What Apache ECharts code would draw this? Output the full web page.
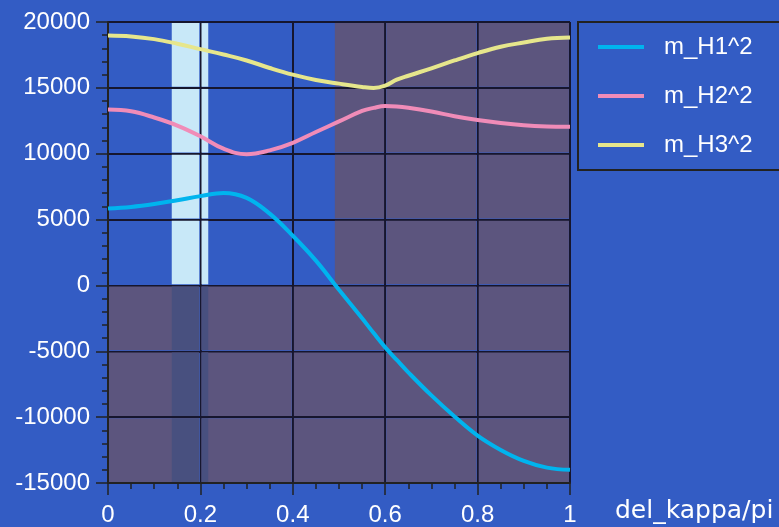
<!DOCTYPE html>
<html>
<head>
<meta charset="utf-8">
<script src="https://cdn.jsdelivr.net/npm/echarts@6/dist/echarts.min.js"></script>
<style>
html,body{margin:0;padding:0;background:#335cc4;}
#c{width:779px;height:527px;}
</style>
</head>
<body>
<div id="c"></div>
<script>
var xs = [0,0.05,0.1,0.15,0.2,0.25,0.3,0.35,0.4,0.45,0.5,0.55,0.575,0.6,0.625,0.65,0.7,0.75,0.8,0.85,0.9,0.95,1];
var h1 = [5840,5960,6180,6470,6780,7020,6650,5450,3770,1880,-330,-2500,-3620,-4700,-5660,-6600,-8350,-9950,-11400,-12490,-13320,-13830,-14000];
var h2 = [13350,13220,12750,12140,11330,10380,9960,10250,10830,11650,12450,13250,13480,13620,13590,13490,13200,12850,12560,12330,12160,12070,12040];
var h3 = [18970,18900,18700,18350,17940,17530,17080,16510,16000,15600,15320,15070,14990,15170,15620,15920,16480,17080,17640,18120,18440,18720,18820];
var seriesNames = ['m_H1^2','m_H2^2','m_H3^2'];
var xName = 'del_kappa/pi';
var xTicks = [0,0.2,0.4,0.6,0.8,1];
var yTicks = [-15000,-10000,-5000,0,5000,10000,15000,20000];
// shaded regions [x0, x1, y0, y1]
var negRegion = [0, 1, -15000, 0];
var rightRegion = [0.491, 1, 0, 20000];
var bandLight = [0.138, 0.217, 0, 20000];
var bandLow = [0.138, 0.217, -15000, 0];

var xMin = xTicks[0], xMax = xTicks[xTicks.length-1];
var yMin = yTicks[0], yMax = yTicks[yTicks.length-1];
// half-gap left open along grid lines so they stay visible (about 1.1px)
var gapX = 1.1 * (xMax - xMin) / 462;
var gapY = 1.1 * (yMax - yMin) / 463;

function pts(ys){ return xs.map(function(x,i){ return [x, ys[i]]; }); }
function cuts(a, b, ticks){
  var c = [a];
  ticks.forEach(function(t){ if (t > a && t < b) c.push(t); });
  c.push(b);
  return c;
}
function isTick(v, ticks){ return ticks.some(function(t){ return Math.abs(t - v) < 1e-9; }); }
function cells(r, color){
  var cx = cuts(r[0], r[1], xTicks), cy = cuts(r[2], r[3], yTicks), out = [];
  for (var i = 0; i < cx.length - 1; i++) {
    for (var j = 0; j < cy.length - 1; j++) {
      var xa = cx[i] + (isTick(cx[i], xTicks) ? gapX : 0);
      var xb = cx[i+1] - (isTick(cx[i+1], xTicks) ? gapX : 0);
      var ya = cy[j] + (isTick(cy[j], yTicks) ? gapY : 0);
      var yb = cy[j+1] - (isTick(cy[j+1], yTicks) ? gapY : 0);
      out.push([{xAxis:xa, yAxis:ya, itemStyle:{color:color, opacity:1, borderWidth:0}}, {xAxis:xb, yAxis:yb}]);
    }
  }
  return out;
}
var shadeCells = cells(negRegion,'#5c557e')
  .concat(cells(rightRegion,'#5c557e'))
  .concat(cells(bandLight,'#c8e8f8'))
  .concat(cells(bandLow,'#48507f'));

var font = 'Liberation Sans, Arial, sans-serif';
var dark = '#16162e';
var chart = echarts.init(document.getElementById('c'), null, {renderer:'canvas'});
chart.setOption({
  backgroundColor:'#335cc4',
  animation:false,
  grid:{left:108, top:22, right:209, bottom:42, containLabel:false},
  legend:{
    data:seriesNames, orient:'vertical', left:578, top:22,
    padding:[13,200,13,20], itemGap:25, itemWidth:46, itemHeight:4,
    icon:'rect',
    borderColor:'#222', borderWidth:2, backgroundColor:'#335cc4',
    textStyle:{color:'#fff', fontSize:24, fontFamily:font, padding:[0,0,0,15]}
  },
  xAxis:{
    type:'value', min:xMin, max:xMax, interval:0.2,
    name:xName, nameLocation:'end', nameGap:45,
    nameTextStyle:{color:'#fff', fontSize:25, fontFamily:'DejaVu Sans, sans-serif', verticalAlign:'top', padding:[16,0,0,0]},
    axisLine:{onZero:false, lineStyle:{color:'#222', width:2}},
    axisTick:{length:12, lineStyle:{color:'#222', width:1.5}},
    minorTick:{show:true, splitNumber:4, length:6, lineStyle:{color:'#222', width:1.5}},
    splitLine:{show:true, lineStyle:{color:dark, width:2}},
    axisLabel:{color:'#fff', fontSize:24, fontFamily:font, margin:20}
  },
  yAxis:{
    type:'value', min:yMin, max:yMax, interval:5000,
    axisLine:{onZero:false, lineStyle:{color:'#222', width:2}},
    axisTick:{length:12, lineStyle:{color:'#222', width:1.5}},
    minorTick:{show:true, splitNumber:5, length:6, lineStyle:{color:'#222', width:1.5}},
    splitLine:{show:true, lineStyle:{color:dark, width:2}},
    axisLabel:{color:'#fff', fontSize:24, fontFamily:font, margin:18, formatter:function(v){ return String(v); }}
  },
  series:[
    {type:'line', name:'_bg', data:[], z:0, silent:true,
      markArea:{silent:true, data:shadeCells}
    },
    {type:'line', name:seriesNames[0], data:pts(h1), smooth:0.4, showSymbol:false, z:10,
      lineStyle:{color:'#00b4ee', width:4}, itemStyle:{color:'#00b4ee'}},
    {type:'line', name:seriesNames[1], data:pts(h2), smooth:0.4, showSymbol:false, z:10,
      lineStyle:{color:'#f08cb8', width:4}, itemStyle:{color:'#f08cb8'}},
    {type:'line', name:seriesNames[2], data:pts(h3), smooth:0.4, showSymbol:false, z:10,
      lineStyle:{color:'#e6e68c', width:4}, itemStyle:{color:'#e6e68c'}}
  ]
});
</script>
</body>
</html>
